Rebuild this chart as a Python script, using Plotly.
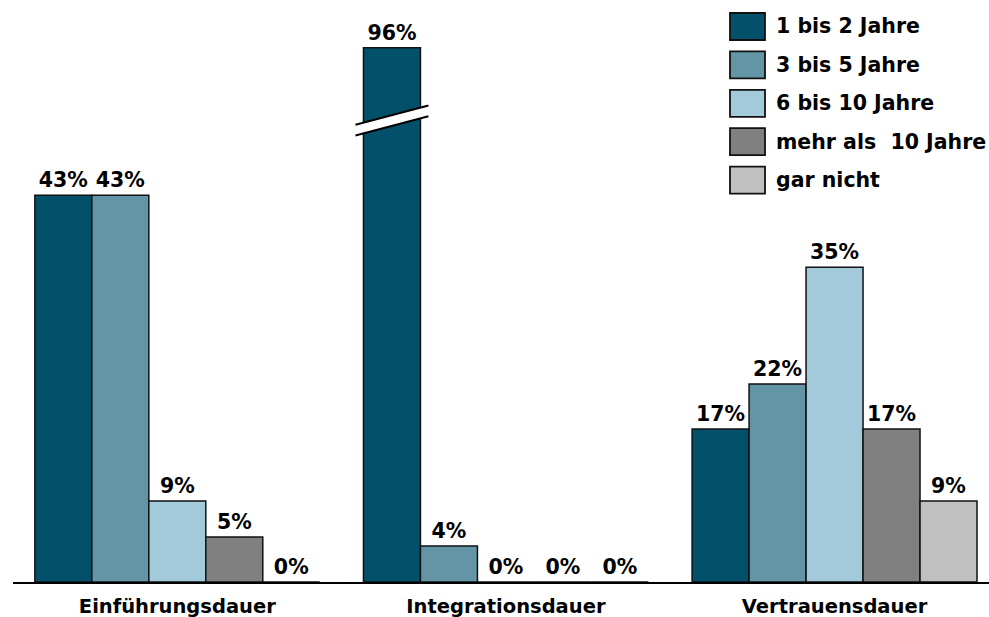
import plotly.graph_objects as go

# ---- data ----
categories = ["Einführungsdauer", "Integrationsdauer", "Vertrauensdauer"]
series_names = ["1 bis 2 Jahre", "3 bis 5 Jahre", "6 bis 10 Jahre",
                "mehr als\u00a0 10 Jahre", "gar nicht"]
vals_1_2 = [43, 96, 17]
vals_3_5 = [43, 4, 22]
vals_6_10 = [9, 0, 35]
vals_10plus = [5, 0, 17]
vals_never = [0, 0, 9]
series_values = [vals_1_2, vals_3_5, vals_6_10, vals_10plus, vals_never]
colors = ["#02506A", "#6495A6", "#A3CADB", "#808080", "#C0C0C0"]

# ---- layout constants ----
W, H = 989, 617
ML, MR, MT, MB = 13, 0, 0, 35
Y_MAX = 64.7
BREAK_CAP = 59.4          # bars above this are drawn broken
BARGAP = 0.133
FONT = "DejaVu Sans"

n = len(series_names)
bw = (1 - BARGAP) / n

fig = go.Figure()
for i, (name, vals) in enumerate(zip(series_names, series_values)):
    shown = [min(v, BREAK_CAP) for v in vals]
    fig.add_trace(go.Bar(
        x=categories, y=shown, name=name,
        marker=dict(color=colors[i], line=dict(color="#111111", width=1.5)),
        text=[f"{v}%" for v in vals], textposition="outside",
        constraintext="none",
        textfont=dict(family=FONT, size=20.5, color="black", weight="bold"),
        cliponaxis=False, showlegend=False,
    ))

shapes = []
# axis break markers on bars exceeding the cap
for i, vals in enumerate(series_values):
    for c, v in enumerate(vals):
        if v > BREAK_CAP:
            xc = c + (i - (n - 1) / 2) * bw
            x0, x1 = xc - 0.111, xc + 0.111
            mid, half, tilt = 51.3, 0.6, 1.07
            yb0, yb1 = mid - half - tilt, mid - half + tilt
            yt0, yt1 = mid + half - tilt, mid + half + tilt
            shapes.append(dict(type="path", xref="x", yref="y",
                               path=f"M {x0},{yb0} L {x1},{yb1} L {x1},{yt1} L {x0},{yt0} Z",
                               fillcolor="white", line=dict(width=0)))
            shapes.append(dict(type="line", xref="x", yref="y", x0=x0, y0=yb0, x1=x1, y1=yb1,
                               line=dict(color="black", width=2)))
            shapes.append(dict(type="line", xref="x", yref="y", x0=x0, y0=yt0, x1=x1, y1=yt1,
                               line=dict(color="black", width=2)))

# manual legend (pixel layout converted to paper coords)
pw = W - ML - MR
ph = H - MT - MB
def px(xp):
    return (xp - ML) / pw
def py(yp):
    return (H - MB - yp) / ph

annotations = []
for i, name in enumerate(series_names):
    cy = 26.5 + i * 38.4
    shapes.append(dict(type="rect", xref="paper", yref="paper",
                       x0=px(730), x1=px(765), y0=py(cy - 13.5), y1=py(cy + 13.5),
                       fillcolor=colors[i], line=dict(color="#111111", width=1.8)))
    annotations.append(dict(xref="paper", yref="paper", x=px(774), y=py(cy),
                            xanchor="left", yanchor="middle", text=name, showarrow=False,
                            font=dict(family=FONT, size=20.5, color="black", weight="bold")))

fig.update_layout(
    width=W, height=H,
    margin=dict(l=ML, r=MR, t=MT, b=MB, pad=0),
    plot_bgcolor="white", paper_bgcolor="white",
    barmode="group", bargap=BARGAP, bargroupgap=0,
    xaxis=dict(range=[-0.5, 2.47], showline=True, linecolor="black", linewidth=2,
               showgrid=False, zeroline=False, ticks="outside", ticklen=6, tickcolor="white",
               automargin=False,
               tickfont=dict(family=FONT, size=19.5, color="black", weight="bold")),
    yaxis=dict(range=[0, Y_MAX], visible=False, showgrid=False, zeroline=False),
    shapes=shapes, annotations=annotations,
    showlegend=False,
)

fig.write_html("out.html")
